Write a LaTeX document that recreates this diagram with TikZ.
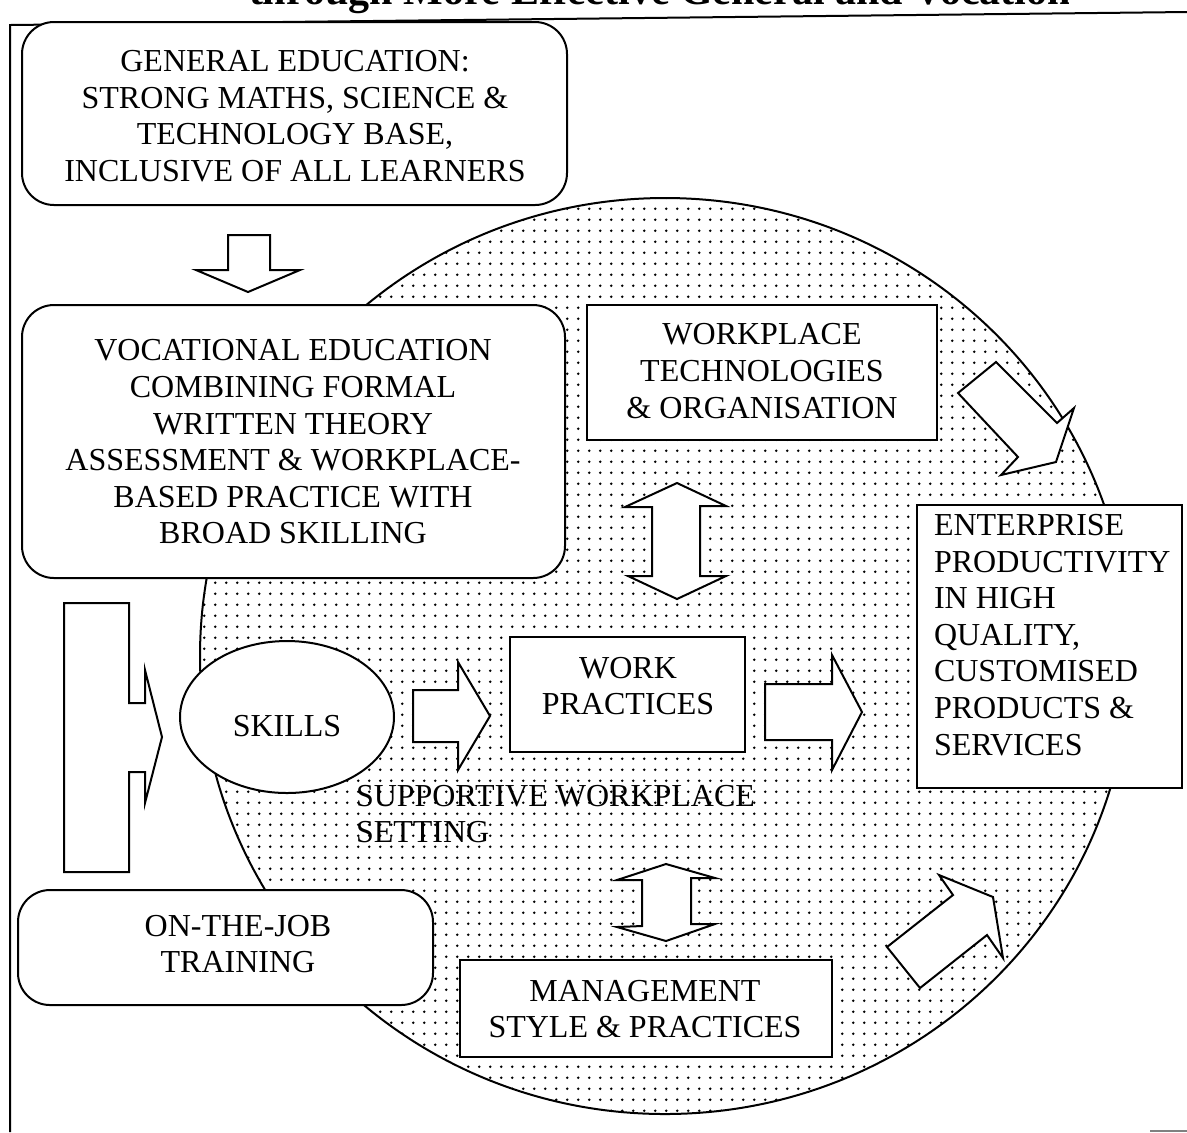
\documentclass[tikz,border=0pt]{standalone}
\usepackage{fontspec}
\setmainfont{Liberation Serif}
\usetikzlibrary{patterns.meta}

\tikzdeclarepattern{
  name=screendots,
  type=uncolored,
  bounding box={(-2.7pt,-2.7pt) and (2.7pt,2.7pt)},
  tile size={(5.4pt,5.4pt)},
  code={\pgfpathcircle{\pgfpointorigin}{0.7pt}\pgfusepath{fill}}
}

\begin{document}
\begin{tikzpicture}[x=0.5pt, y=-0.5pt, line width=1pt,
    box/.style={draw, fill=white},
    roundbox/.style={draw, fill=white, rounded corners=16pt},
    blockarrow/.style={draw, fill=white, line join=miter},
    txt/.style={font=\fontsize{16}{18.3}\selectfont, align=center, inner sep=0pt}]

    \useasboundingbox (0,0) rectangle (1187,1132);
    \clip (0,0) rectangle (1187,1132);

    % Title, cut off by the page edge
    \begin{scope}
        \clip (240,0) rectangle (1068,30);
        \node[anchor=base west, inner sep=0pt, font=\fontsize{21}{24}\selectfont\bfseries]
            (title) at (248,4) {through More Effective General and Vocational};
    \end{scope}

    % Frame
    \draw (10,1132) -- (10,25) -- (1187,12);
    \draw[gray] (1150,1131) -- (1187,1131);

    % Workplace setting
    \draw[pattern=screendots, pattern color=black] (665,656) ellipse [x radius=232.5pt, y radius=229pt];

    % General education
    \draw[roundbox] (22,22) rectangle (567,205);
    \node[txt] (gened) at (295,116) {GENERAL EDUCATION:\\STRONG MATHS, SCIENCE \&\\TECHNOLOGY BASE,\\INCLUSIVE OF ALL LEARNERS};

    \draw[blockarrow] (228,235) -- (270,235) -- (270,270) -- (300,270) -- (248,292)
        -- (196,270) -- (228,270) -- cycle;

    % Vocational education
    \draw[roundbox] (22,305) rectangle (565,578);
    \node[txt] (voced) at (293,442) {VOCATIONAL EDUCATION\\COMBINING FORMAL\\WRITTEN THEORY\\ASSESSMENT \& WORKPLACE-\\BASED PRACTICE WITH\\BROAD SKILLING};

    % Left bracket arrow
    \draw[blockarrow] (64,603) -- (129,603) -- (129,703) -- (145,703) -- (145,670) -- (162,737)
        -- (145,803) -- (145,772) -- (129,772) -- (129,872) -- (64,872) -- cycle;

    % Skills
    \draw[box] (287,717) ellipse [x radius=53.5pt, y radius=38pt];
    \node[txt] (skills) at (287,726) {SKILLS};

    \draw[blockarrow] (413,690) -- (458,690) -- (458,662) -- (490,716) -- (458,770)
        -- (458,742) -- (413,742) -- cycle;

    % Workplace technologies
    \draw[box] (587,305) rectangle (937,440);
    \node[txt] (wtech) at (762,371) {WORKPLACE\\TECHNOLOGIES\\\& ORGANISATION};

    \draw[blockarrow] (677,483) -- (726,506) -- (700,506) -- (700,576) -- (726,576) -- (677,599)
        -- (628,576) -- (652,576) -- (652,507) -- (625,507) -- cycle;

    % Work practices
    \draw[box] (510,637) rectangle (745,752);
    \node[txt] (wprac) at (628,686) {WORK\\PRACTICES};

    \draw[blockarrow] (765,684) -- (832,684) -- (832,655) -- (862,712) -- (832,770)
        -- (832,740) -- (765,740) -- cycle;

    % Enterprise productivity
    \draw[box] (917,505) rectangle (1182,788);
    \node[txt, align=left, anchor=west] (enter) at (933,635) {ENTERPRISE\\PRODUCTIVITY\\IN HIGH\\QUALITY,\\CUSTOMISED\\PRODUCTS \&\\SERVICES};

    \draw[blockarrow] (958,393) -- (996,362) -- (1057,423) -- (1074,408) -- (1056,462)
        -- (1001,475) -- (1018,457) -- cycle;

    % Supportive setting label
    \node[txt, align=left, anchor=west] (setting) at (355,814) {SUPPORTIVE WORKPLACE\\SETTING};

    \draw[blockarrow] (666,864) -- (715,878) -- (691,878) -- (691,924) -- (715,924) -- (666,941)
        -- (617,927) -- (642,926) -- (642,880) -- (617,880) -- cycle;

    % On-the-job training
    \draw[roundbox] (18,890) rectangle (433,1005);
    \node[txt] (ojt) at (238,944) {ON-THE-JOB\\TRAINING};

    % Management
    \draw[box] (460,960) rectangle (832,1057);
    \node[txt] (mgmt) at (645,1009) {MANAGEMENT\\STYLE \& PRACTICES};

    \draw[blockarrow] (887,947) -- (953,895) -- (939,875) -- (993,897) -- (1003,958)
        -- (987,935) -- (920,988) -- cycle;

\end{tikzpicture}
\end{document}
